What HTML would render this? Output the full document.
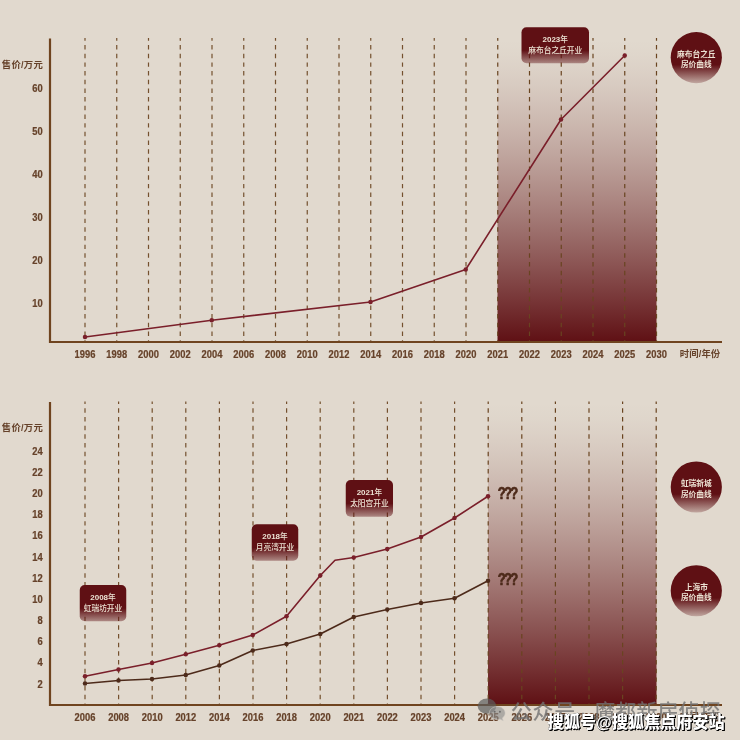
<!DOCTYPE html>
<html lang="zh-CN">
<head>
<meta charset="utf-8">
<title>房价曲线</title>
<style>
html,body{margin:0;padding:0;background:#e1d9ce;}
body{width:740px;height:740px;overflow:hidden;font-family:"Liberation Sans", "Noto Sans CJK SC", sans-serif;}
svg{display:block;position:absolute;left:0;top:0;}
text{font-family:"Liberation Sans", "Noto Sans CJK SC", sans-serif;}
.ax{fill:#66422a;font-size:9.4px;font-weight:700;}
.dg{font-size:10.1px;stroke:#66422a;stroke-width:0.22px;}
.lb{fill:#ece2d3;font-size:7.7px;font-weight:500;}
.lb .n{font-weight:700;font-size:8px;}
.cb{fill:#ece2d3;font-size:7.7px;font-weight:700;}
.q{fill:#4d2a1a;font-size:16.3px;font-weight:700;stroke:#4d2a1a;stroke-width:0.7px;stroke-linejoin:round;}
</style>
</head>
<body>
<svg width="740" height="740" viewBox="0 0 740 740">
<defs>
<linearGradient id="gz" x1="0" y1="0" x2="0" y2="1">
<stop offset="0.00" stop-color="#5f1014" stop-opacity="0.000"/>
<stop offset="0.05" stop-color="#5f1014" stop-opacity="0.015"/>
<stop offset="0.10" stop-color="#5f1014" stop-opacity="0.040"/>
<stop offset="0.15" stop-color="#5f1014" stop-opacity="0.070"/>
<stop offset="0.20" stop-color="#5f1014" stop-opacity="0.105"/>
<stop offset="0.25" stop-color="#5f1014" stop-opacity="0.144"/>
<stop offset="0.30" stop-color="#5f1014" stop-opacity="0.185"/>
<stop offset="0.35" stop-color="#5f1014" stop-opacity="0.230"/>
<stop offset="0.40" stop-color="#5f1014" stop-opacity="0.277"/>
<stop offset="0.45" stop-color="#5f1014" stop-opacity="0.327"/>
<stop offset="0.50" stop-color="#5f1014" stop-opacity="0.379"/>
<stop offset="0.55" stop-color="#5f1014" stop-opacity="0.433"/>
<stop offset="0.60" stop-color="#5f1014" stop-opacity="0.489"/>
<stop offset="0.65" stop-color="#5f1014" stop-opacity="0.547"/>
<stop offset="0.70" stop-color="#5f1014" stop-opacity="0.607"/>
<stop offset="0.75" stop-color="#5f1014" stop-opacity="0.668"/>
<stop offset="0.80" stop-color="#5f1014" stop-opacity="0.732"/>
<stop offset="0.85" stop-color="#5f1014" stop-opacity="0.797"/>
<stop offset="0.90" stop-color="#5f1014" stop-opacity="0.863"/>
<stop offset="0.95" stop-color="#5f1014" stop-opacity="0.931"/>
<stop offset="1.00" stop-color="#5f1014" stop-opacity="1.000"/>
</linearGradient>
<linearGradient id="gl" x1="0" y1="0" x2="0" y2="1">
<stop offset="0" stop-color="#5f1014" stop-opacity="1"/>
<stop offset="0.64" stop-color="#5f1014" stop-opacity="1"/>
<stop offset="1" stop-color="#5f1014" stop-opacity="0.4"/>
</linearGradient>
<linearGradient id="gc" x1="0" y1="0" x2="0" y2="1">
<stop offset="0" stop-color="#5f1014" stop-opacity="1"/>
<stop offset="0.64" stop-color="#5f1014" stop-opacity="1"/>
<stop offset="1" stop-color="#5f1014" stop-opacity="0.25"/>
</linearGradient>
</defs>
<rect width="740" height="740" fill="#e1d9ce"/>

<rect x="497.5" y="40" width="159.0" height="302" fill="url(#gz)"/>
<line x1="85.00" y1="38.1" x2="85.00" y2="342" stroke="#74502e" stroke-width="1.2" stroke-dasharray="4.45 4.23" stroke-dashoffset="1.75"/>
<line x1="116.75" y1="38.1" x2="116.75" y2="342" stroke="#74502e" stroke-width="1.2" stroke-dasharray="4.45 4.23" stroke-dashoffset="1.75"/>
<line x1="148.50" y1="38.1" x2="148.50" y2="342" stroke="#74502e" stroke-width="1.2" stroke-dasharray="4.45 4.23" stroke-dashoffset="1.75"/>
<line x1="180.25" y1="38.1" x2="180.25" y2="342" stroke="#74502e" stroke-width="1.2" stroke-dasharray="4.45 4.23" stroke-dashoffset="1.75"/>
<line x1="212.00" y1="38.1" x2="212.00" y2="342" stroke="#74502e" stroke-width="1.2" stroke-dasharray="4.45 4.23" stroke-dashoffset="1.75"/>
<line x1="243.75" y1="38.1" x2="243.75" y2="342" stroke="#74502e" stroke-width="1.2" stroke-dasharray="4.45 4.23" stroke-dashoffset="1.75"/>
<line x1="275.50" y1="38.1" x2="275.50" y2="342" stroke="#74502e" stroke-width="1.2" stroke-dasharray="4.45 4.23" stroke-dashoffset="1.75"/>
<line x1="307.25" y1="38.1" x2="307.25" y2="342" stroke="#74502e" stroke-width="1.2" stroke-dasharray="4.45 4.23" stroke-dashoffset="1.75"/>
<line x1="339.00" y1="38.1" x2="339.00" y2="342" stroke="#74502e" stroke-width="1.2" stroke-dasharray="4.45 4.23" stroke-dashoffset="1.75"/>
<line x1="370.75" y1="38.1" x2="370.75" y2="342" stroke="#74502e" stroke-width="1.2" stroke-dasharray="4.45 4.23" stroke-dashoffset="1.75"/>
<line x1="402.50" y1="38.1" x2="402.50" y2="342" stroke="#74502e" stroke-width="1.2" stroke-dasharray="4.45 4.23" stroke-dashoffset="1.75"/>
<line x1="434.25" y1="38.1" x2="434.25" y2="342" stroke="#74502e" stroke-width="1.2" stroke-dasharray="4.45 4.23" stroke-dashoffset="1.75"/>
<line x1="466.00" y1="38.1" x2="466.00" y2="342" stroke="#74502e" stroke-width="1.2" stroke-dasharray="4.45 4.23" stroke-dashoffset="1.75"/>
<line x1="497.75" y1="38.1" x2="497.75" y2="342" stroke="#694420" stroke-width="1.2" stroke-dasharray="4.45 4.23" stroke-dashoffset="1.75"/>
<line x1="529.50" y1="38.1" x2="529.50" y2="342" stroke="#694420" stroke-width="1.2" stroke-dasharray="4.45 4.23" stroke-dashoffset="1.75"/>
<line x1="561.25" y1="38.1" x2="561.25" y2="342" stroke="#694420" stroke-width="1.2" stroke-dasharray="4.45 4.23" stroke-dashoffset="1.75"/>
<line x1="593.00" y1="38.1" x2="593.00" y2="342" stroke="#694420" stroke-width="1.2" stroke-dasharray="4.45 4.23" stroke-dashoffset="1.75"/>
<line x1="624.75" y1="38.1" x2="624.75" y2="342" stroke="#694420" stroke-width="1.2" stroke-dasharray="4.45 4.23" stroke-dashoffset="1.75"/>
<line x1="656.50" y1="38.1" x2="656.50" y2="342" stroke="#694420" stroke-width="1.2" stroke-dasharray="4.45 4.23" stroke-dashoffset="1.75"/>
<path d="M50 38.6 V342 H722" fill="none" stroke="#6f441f" stroke-width="2.2"/>
<text class="ax dg" x="74.60" y="357.65" textLength="20.8" lengthAdjust="spacingAndGlyphs">1996</text>
<text class="ax dg" x="106.35" y="357.65" textLength="20.8" lengthAdjust="spacingAndGlyphs">1998</text>
<text class="ax dg" x="138.10" y="357.65" textLength="20.8" lengthAdjust="spacingAndGlyphs">2000</text>
<text class="ax dg" x="169.85" y="357.65" textLength="20.8" lengthAdjust="spacingAndGlyphs">2002</text>
<text class="ax dg" x="201.60" y="357.65" textLength="20.8" lengthAdjust="spacingAndGlyphs">2004</text>
<text class="ax dg" x="233.35" y="357.65" textLength="20.8" lengthAdjust="spacingAndGlyphs">2006</text>
<text class="ax dg" x="265.10" y="357.65" textLength="20.8" lengthAdjust="spacingAndGlyphs">2008</text>
<text class="ax dg" x="296.85" y="357.65" textLength="20.8" lengthAdjust="spacingAndGlyphs">2010</text>
<text class="ax dg" x="328.60" y="357.65" textLength="20.8" lengthAdjust="spacingAndGlyphs">2012</text>
<text class="ax dg" x="360.35" y="357.65" textLength="20.8" lengthAdjust="spacingAndGlyphs">2014</text>
<text class="ax dg" x="392.10" y="357.65" textLength="20.8" lengthAdjust="spacingAndGlyphs">2016</text>
<text class="ax dg" x="423.85" y="357.65" textLength="20.8" lengthAdjust="spacingAndGlyphs">2018</text>
<text class="ax dg" x="455.60" y="357.65" textLength="20.8" lengthAdjust="spacingAndGlyphs">2020</text>
<text class="ax dg" x="487.35" y="357.65" textLength="20.8" lengthAdjust="spacingAndGlyphs">2021</text>
<text class="ax dg" x="519.10" y="357.65" textLength="20.8" lengthAdjust="spacingAndGlyphs">2022</text>
<text class="ax dg" x="550.85" y="357.65" textLength="20.8" lengthAdjust="spacingAndGlyphs">2023</text>
<text class="ax dg" x="582.60" y="357.65" textLength="20.8" lengthAdjust="spacingAndGlyphs">2024</text>
<text class="ax dg" x="614.35" y="357.65" textLength="20.8" lengthAdjust="spacingAndGlyphs">2025</text>
<text class="ax dg" x="646.10" y="357.65" textLength="20.8" lengthAdjust="spacingAndGlyphs">2030</text>
<text class="ax" x="700" y="357.15" text-anchor="middle" textLength="40.5" lengthAdjust="spacing">时间/年份</text>
<text class="ax dg" x="32.20" y="91.8" textLength="10.40" lengthAdjust="spacingAndGlyphs">60</text>
<text class="ax dg" x="32.20" y="135.05" textLength="10.40" lengthAdjust="spacingAndGlyphs">50</text>
<text class="ax dg" x="32.20" y="178.05" textLength="10.40" lengthAdjust="spacingAndGlyphs">40</text>
<text class="ax dg" x="32.20" y="221.3" textLength="10.40" lengthAdjust="spacingAndGlyphs">30</text>
<text class="ax dg" x="32.20" y="264.3" textLength="10.40" lengthAdjust="spacingAndGlyphs">20</text>
<text class="ax dg" x="32.20" y="307.05" textLength="10.40" lengthAdjust="spacingAndGlyphs">10</text>
<text class="ax" x="1.8" y="68.4" textLength="41" lengthAdjust="spacing">售价/万元</text>
<path d="M85.00 337.00 L211.75 320.25 L370.50 302.00 L465.75 269.50 L561.00 119.50 L624.75 55.50" fill="none" stroke="#7a1f2a" stroke-width="1.6" stroke-linejoin="round" stroke-linecap="round"/>
<circle cx="85.00" cy="337.00" r="2.25" fill="#7a1f2a"/>
<circle cx="211.75" cy="320.25" r="2.25" fill="#7a1f2a"/>
<circle cx="370.50" cy="302.00" r="2.25" fill="#7a1f2a"/>
<circle cx="465.75" cy="269.50" r="2.25" fill="#7a1f2a"/>
<circle cx="561.00" cy="119.50" r="2.25" fill="#7a1f2a"/>
<circle cx="624.75" cy="55.50" r="2.25" fill="#7a1f2a"/>
<rect x="521.5" y="27.2" width="67.5" height="36.0" rx="5" ry="5" fill="url(#gl)"/>
<text class="lb" x="555.25" y="42.3" text-anchor="middle"><tspan class="n">2023</tspan>年</text>
<text class="lb" x="555.25" y="52.7" text-anchor="middle">麻布台之丘开业</text>
<circle cx="696.3" cy="57.6" r="25.6" fill="url(#gc)"/>
<text class="cb" x="696.3" y="56.5" text-anchor="middle">麻布台之丘</text>
<text class="cb" x="696.3" y="67.3" text-anchor="middle">房价曲线</text>
<rect x="488" y="403" width="168.5" height="302" fill="url(#gz)"/>
<line x1="85.00" y1="401.4" x2="85.00" y2="705" stroke="#74502e" stroke-width="1.2" stroke-dasharray="4.45 4.23" stroke-dashoffset="1.75"/>
<line x1="118.60" y1="401.4" x2="118.60" y2="705" stroke="#74502e" stroke-width="1.2" stroke-dasharray="4.45 4.23" stroke-dashoffset="1.75"/>
<line x1="152.20" y1="401.4" x2="152.20" y2="705" stroke="#74502e" stroke-width="1.2" stroke-dasharray="4.45 4.23" stroke-dashoffset="1.75"/>
<line x1="185.80" y1="401.4" x2="185.80" y2="705" stroke="#74502e" stroke-width="1.2" stroke-dasharray="4.45 4.23" stroke-dashoffset="1.75"/>
<line x1="219.40" y1="401.4" x2="219.40" y2="705" stroke="#74502e" stroke-width="1.2" stroke-dasharray="4.45 4.23" stroke-dashoffset="1.75"/>
<line x1="253.00" y1="401.4" x2="253.00" y2="705" stroke="#74502e" stroke-width="1.2" stroke-dasharray="4.45 4.23" stroke-dashoffset="1.75"/>
<line x1="286.60" y1="401.4" x2="286.60" y2="705" stroke="#74502e" stroke-width="1.2" stroke-dasharray="4.45 4.23" stroke-dashoffset="1.75"/>
<line x1="320.20" y1="401.4" x2="320.20" y2="705" stroke="#74502e" stroke-width="1.2" stroke-dasharray="4.45 4.23" stroke-dashoffset="1.75"/>
<line x1="353.80" y1="401.4" x2="353.80" y2="705" stroke="#74502e" stroke-width="1.2" stroke-dasharray="4.45 4.23" stroke-dashoffset="1.75"/>
<line x1="387.40" y1="401.4" x2="387.40" y2="705" stroke="#74502e" stroke-width="1.2" stroke-dasharray="4.45 4.23" stroke-dashoffset="1.75"/>
<line x1="421.00" y1="401.4" x2="421.00" y2="705" stroke="#74502e" stroke-width="1.2" stroke-dasharray="4.45 4.23" stroke-dashoffset="1.75"/>
<line x1="454.60" y1="401.4" x2="454.60" y2="705" stroke="#74502e" stroke-width="1.2" stroke-dasharray="4.45 4.23" stroke-dashoffset="1.75"/>
<line x1="488.20" y1="401.4" x2="488.20" y2="705" stroke="#694420" stroke-width="1.2" stroke-dasharray="4.45 4.23" stroke-dashoffset="1.75"/>
<line x1="521.80" y1="401.4" x2="521.80" y2="705" stroke="#694420" stroke-width="1.2" stroke-dasharray="4.45 4.23" stroke-dashoffset="1.75"/>
<line x1="555.40" y1="401.4" x2="555.40" y2="705" stroke="#694420" stroke-width="1.2" stroke-dasharray="4.45 4.23" stroke-dashoffset="1.75"/>
<line x1="589.00" y1="401.4" x2="589.00" y2="705" stroke="#694420" stroke-width="1.2" stroke-dasharray="4.45 4.23" stroke-dashoffset="1.75"/>
<line x1="622.60" y1="401.4" x2="622.60" y2="705" stroke="#694420" stroke-width="1.2" stroke-dasharray="4.45 4.23" stroke-dashoffset="1.75"/>
<line x1="656.20" y1="401.4" x2="656.20" y2="705" stroke="#694420" stroke-width="1.2" stroke-dasharray="4.45 4.23" stroke-dashoffset="1.75"/>
<path d="M50 401.9 V705 H722" fill="none" stroke="#6f441f" stroke-width="2.2"/>
<text class="ax dg" x="74.60" y="720.65" textLength="20.8" lengthAdjust="spacingAndGlyphs">2006</text>
<text class="ax dg" x="108.20" y="720.65" textLength="20.8" lengthAdjust="spacingAndGlyphs">2008</text>
<text class="ax dg" x="141.80" y="720.65" textLength="20.8" lengthAdjust="spacingAndGlyphs">2010</text>
<text class="ax dg" x="175.40" y="720.65" textLength="20.8" lengthAdjust="spacingAndGlyphs">2012</text>
<text class="ax dg" x="209.00" y="720.65" textLength="20.8" lengthAdjust="spacingAndGlyphs">2014</text>
<text class="ax dg" x="242.60" y="720.65" textLength="20.8" lengthAdjust="spacingAndGlyphs">2016</text>
<text class="ax dg" x="276.20" y="720.65" textLength="20.8" lengthAdjust="spacingAndGlyphs">2018</text>
<text class="ax dg" x="309.80" y="720.65" textLength="20.8" lengthAdjust="spacingAndGlyphs">2020</text>
<text class="ax dg" x="343.40" y="720.65" textLength="20.8" lengthAdjust="spacingAndGlyphs">2021</text>
<text class="ax dg" x="377.00" y="720.65" textLength="20.8" lengthAdjust="spacingAndGlyphs">2022</text>
<text class="ax dg" x="410.60" y="720.65" textLength="20.8" lengthAdjust="spacingAndGlyphs">2023</text>
<text class="ax dg" x="444.20" y="720.65" textLength="20.8" lengthAdjust="spacingAndGlyphs">2024</text>
<text class="ax dg" x="477.80" y="720.65" textLength="20.8" lengthAdjust="spacingAndGlyphs">2025</text>
<text class="ax dg" x="511.40" y="720.65" textLength="20.8" lengthAdjust="spacingAndGlyphs">2026</text>
<text class="ax dg" x="545.00" y="720.65" textLength="20.8" lengthAdjust="spacingAndGlyphs">2027</text>
<text class="ax dg" x="578.60" y="720.65" textLength="20.8" lengthAdjust="spacingAndGlyphs">2028</text>
<text class="ax dg" x="612.20" y="720.65" textLength="20.8" lengthAdjust="spacingAndGlyphs">2029</text>
<text class="ax dg" x="645.80" y="720.65" textLength="20.8" lengthAdjust="spacingAndGlyphs">2030</text>
<text class="ax" x="700" y="720.15" text-anchor="middle" textLength="40.5" lengthAdjust="spacing">时间/年份</text>
<text class="ax dg" x="32.20" y="455.3" textLength="10.40" lengthAdjust="spacingAndGlyphs">24</text>
<text class="ax dg" x="32.20" y="475.8" textLength="10.40" lengthAdjust="spacingAndGlyphs">22</text>
<text class="ax dg" x="32.20" y="496.55" textLength="10.40" lengthAdjust="spacingAndGlyphs">20</text>
<text class="ax dg" x="32.20" y="518.05" textLength="10.40" lengthAdjust="spacingAndGlyphs">18</text>
<text class="ax dg" x="32.20" y="539.3" textLength="10.40" lengthAdjust="spacingAndGlyphs">16</text>
<text class="ax dg" x="32.20" y="560.8" textLength="10.40" lengthAdjust="spacingAndGlyphs">14</text>
<text class="ax dg" x="32.20" y="582.05" textLength="10.40" lengthAdjust="spacingAndGlyphs">12</text>
<text class="ax dg" x="32.20" y="603.05" textLength="10.40" lengthAdjust="spacingAndGlyphs">10</text>
<text class="ax dg" x="37.40" y="624.05" textLength="5.20" lengthAdjust="spacingAndGlyphs">8</text>
<text class="ax dg" x="37.40" y="645.3" textLength="5.20" lengthAdjust="spacingAndGlyphs">6</text>
<text class="ax dg" x="37.40" y="666.3" textLength="5.20" lengthAdjust="spacingAndGlyphs">4</text>
<text class="ax dg" x="37.40" y="687.55" textLength="5.20" lengthAdjust="spacingAndGlyphs">2</text>
<text class="ax" x="1.8" y="430.9" textLength="41" lengthAdjust="spacing">售价/万元</text>
<path d="M85.00 676.25 L118.50 669.50 L152.00 663.00 L185.75 654.25 L219.25 645.25 L252.75 635.00 L286.50 616.25 L320.25 575.50 L335.00 560.25 L353.75 557.50 L387.25 549.00 L421.00 537.00 L454.50 518.00 L488.00 496.25" fill="none" stroke="#7a1f2a" stroke-width="1.6" stroke-linejoin="round" stroke-linecap="round"/>
<circle cx="85.00" cy="676.25" r="2.25" fill="#7a1f2a"/>
<circle cx="118.50" cy="669.50" r="2.25" fill="#7a1f2a"/>
<circle cx="152.00" cy="663.00" r="2.25" fill="#7a1f2a"/>
<circle cx="185.75" cy="654.25" r="2.25" fill="#7a1f2a"/>
<circle cx="219.25" cy="645.25" r="2.25" fill="#7a1f2a"/>
<circle cx="252.75" cy="635.00" r="2.25" fill="#7a1f2a"/>
<circle cx="286.50" cy="616.25" r="2.25" fill="#7a1f2a"/>
<circle cx="320.25" cy="575.50" r="2.25" fill="#7a1f2a"/>
<circle cx="353.75" cy="557.50" r="2.25" fill="#7a1f2a"/>
<circle cx="387.25" cy="549.00" r="2.25" fill="#7a1f2a"/>
<circle cx="421.00" cy="537.00" r="2.25" fill="#7a1f2a"/>
<circle cx="454.50" cy="518.00" r="2.25" fill="#7a1f2a"/>
<circle cx="488.00" cy="496.25" r="2.25" fill="#7a1f2a"/>
<path d="M85.00 683.50 L118.50 680.50 L152.00 679.00 L185.75 675.00 L219.25 665.50 L252.75 650.50 L286.50 644.00 L320.25 634.00 L353.75 617.00 L387.25 609.50 L421.00 603.00 L454.50 598.25 L488.00 580.75" fill="none" stroke="#4d2a1a" stroke-width="1.6" stroke-linejoin="round" stroke-linecap="round"/>
<circle cx="85.00" cy="683.50" r="2.25" fill="#4d2a1a"/>
<circle cx="118.50" cy="680.50" r="2.25" fill="#4d2a1a"/>
<circle cx="152.00" cy="679.00" r="2.25" fill="#4d2a1a"/>
<circle cx="185.75" cy="675.00" r="2.25" fill="#4d2a1a"/>
<circle cx="219.25" cy="665.50" r="2.25" fill="#4d2a1a"/>
<circle cx="252.75" cy="650.50" r="2.25" fill="#4d2a1a"/>
<circle cx="286.50" cy="644.00" r="2.25" fill="#4d2a1a"/>
<circle cx="320.25" cy="634.00" r="2.25" fill="#4d2a1a"/>
<circle cx="353.75" cy="617.00" r="2.25" fill="#4d2a1a"/>
<circle cx="387.25" cy="609.50" r="2.25" fill="#4d2a1a"/>
<circle cx="421.00" cy="603.00" r="2.25" fill="#4d2a1a"/>
<circle cx="454.50" cy="598.25" r="2.25" fill="#4d2a1a"/>
<circle cx="488.00" cy="580.75" r="2.25" fill="#4d2a1a"/>
<rect x="79.75" y="585" width="46.5" height="36.25" rx="5" ry="5" fill="url(#gl)"/>
<text class="lb" x="103.0" y="600.1" text-anchor="middle"><tspan class="n">2008</tspan>年</text>
<text class="lb" x="103.0" y="610.5" text-anchor="middle">虹瑞坊开业</text>
<rect x="251.75" y="524.25" width="46.5" height="36.5" rx="5" ry="5" fill="url(#gl)"/>
<text class="lb" x="275.0" y="539.35" text-anchor="middle"><tspan class="n">2018</tspan>年</text>
<text class="lb" x="275.0" y="549.75" text-anchor="middle">月亮湾开业</text>
<rect x="345.75" y="480" width="47.25" height="36.75" rx="5" ry="5" fill="url(#gl)"/>
<text class="lb" x="369.375" y="495.1" text-anchor="middle"><tspan class="n">2021</tspan>年</text>
<text class="lb" x="369.375" y="505.5" text-anchor="middle">太阳宫开业</text>
<text class="q" transform="translate(497.8,499.3) scale(0.8,1)" style="letter-spacing:-2.2px">???</text>
<text class="q" transform="translate(497.8,585.3) scale(0.8,1)" style="letter-spacing:-2.2px">???</text>
<circle cx="696.3" cy="487" r="25.6" fill="url(#gc)"/>
<text class="cb" x="696.3" y="485.9" text-anchor="middle">虹瑞新城</text>
<text class="cb" x="696.3" y="496.7" text-anchor="middle">房价曲线</text>
<circle cx="696.3" cy="590.75" r="25.6" fill="url(#gc)"/>
<text class="cb" x="696.3" y="589.65" text-anchor="middle">上海市</text>
<text class="cb" x="696.3" y="600.45" text-anchor="middle">房价曲线</text>
<ellipse cx="487" cy="706.2" rx="9.3" ry="7.6" fill="#5c5c5c" fill-opacity="0.7"/><path d="M497.2 706.6c4.4 0 7.9 2.9 7.9 6.5 0 2-1.1 3.8-2.8 5l0.9 2.6-3-1.5c-0.9 0.3-1.9 0.4-3 0.4-4.4 0-7.9-2.9-7.9-6.5s3.5-6.5 7.9-6.5z" fill="#8a8a8a" fill-opacity="0.62" stroke="#cfcac2" stroke-opacity="0.7" stroke-width="0.8"/><circle cx="494.7" cy="711.8" r="0.95" fill="#5a5a5a" fill-opacity="0.8"/><circle cx="499.9" cy="711.8" r="0.95" fill="#5a5a5a" fill-opacity="0.8"/>
<text y="719.2" style="font-size:21px;font-weight:500;fill:#727272;opacity:0.8"><tspan x="510.8" style="letter-spacing:0.7px">公众号</tspan><tspan x="579.5">·</tspan><tspan x="594.2" style="letter-spacing:0.1px">魔都新房侦探</tspan></text>
<text x="547.6" y="728.3" textLength="177" lengthAdjust="spacingAndGlyphs" style="font-size:16.6px;font-weight:900;fill:#fff;filter:drop-shadow(1.2px 1.2px 0 #000) drop-shadow(0.5px 0.4px 0 #000)">搜狐号@搜狐焦点府安站</text>
</svg>
</body>
</html>
